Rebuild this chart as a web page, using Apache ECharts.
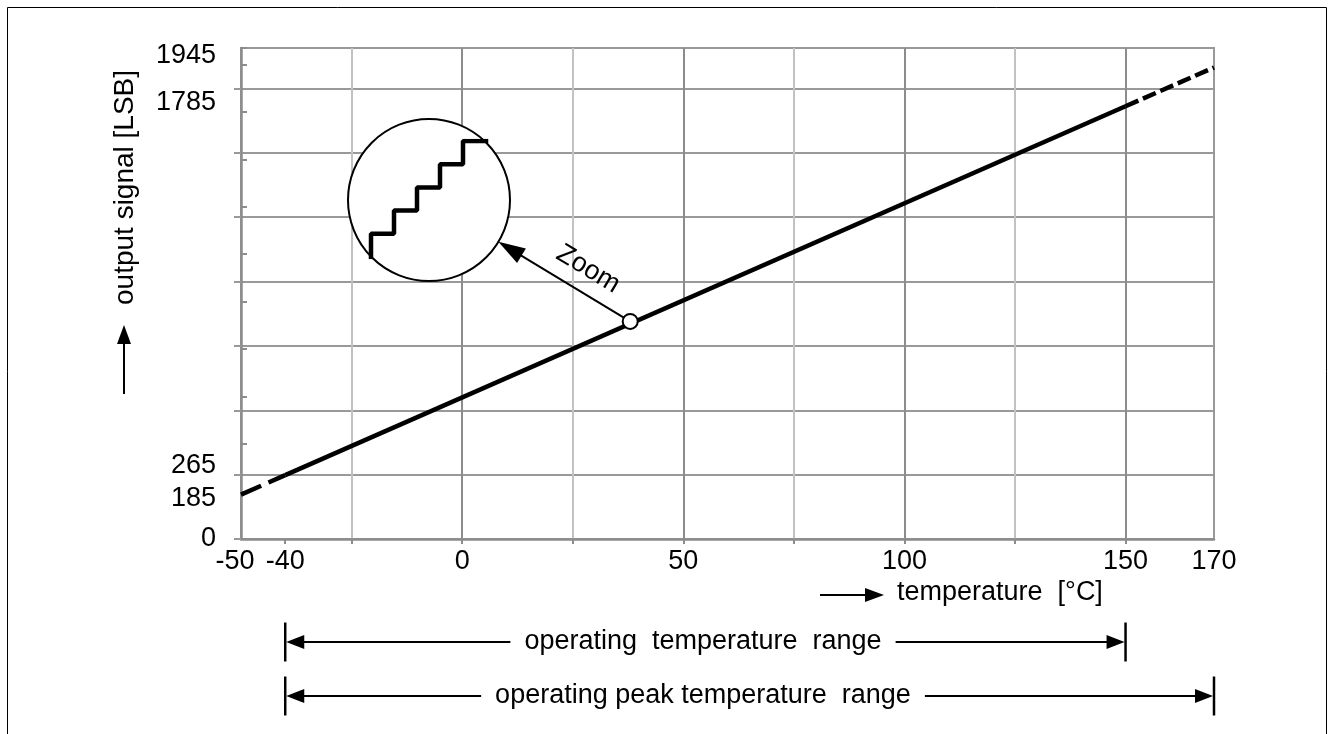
<!DOCTYPE html>
<html>
<head>
<meta charset="utf-8">
<script src="https://cdn.jsdelivr.net/npm/echarts@6/dist/echarts.min.js"></script>
<style>
  html, body { margin: 0; padding: 0; background: #fff; }
  #main { width: 1333px; height: 734px; }
</style>
</head>
<body>
<div id="main"></div>
<script>
// characteristic line (temperature in deg C, signal in LSB)
var tempPts = [-50, -40, 150, 170];
var signalPts = [176, 253, 1714, 1868];

// the little open circle that the "Zoom" arrow starts from
var markTemp = [38];
var markSignal = [862];

// axis ticks and labels
var xLabelVals = [-50, -40, 0, 50, 100, 150, 170];
var xTickVals = [-40, -25, 0, 25, 50, 75, 100, 125, 150];
var yLabelVals = [0, 185, 265, 1785, 1945];
var yGridVals = [0, 255, 510, 765, 1020, 1275, 1530, 1785];

// staircase inside the magnifier (LSB steps)
var stepX = [0, 1, 2, 3, 4, 5];
var stepY = [0, 1, 2, 3, 4, 5];

// temperature ranges under the chart
var rangeFrom = [-40, -40];
var rangeTo = [150, 170];
var rangeText = ['operating  temperature  range', 'operating peak temperature  range'];

var FAMILY = '"Liberation Sans", Arial, sans-serif';
var FS = 27;
var FONT = FS + 'px ' + FAMILY;

// small label nudges (px), the original sets them off their ticks
var yLabelNudge = [0, 6, -7, 14, 8];
var xLabelNudge = [-6, 0, 0, 0, 0, 0, 0];

function pairs(a, b) {
	return a.map(function (v, i) { return [v, b[i]]; });
}

var yRich = {}, xRich = {};
yLabelNudge.forEach(function (n, i) {
	yRich['n' + i] = { fontSize: FS, fontFamily: FAMILY, color: '#000',
		padding: n >= 0 ? [2 * n, 0, 0, 0] : [0, 0, -2 * n, 0] };
});
xLabelNudge.forEach(function (n, i) {
	xRich['n' + i] = { fontSize: FS, fontFamily: FAMILY, color: '#000',
		padding: n <= 0 ? [0, -2 * n, 0, 0] : [0, 0, 0, 2 * n] };
});

var line = pairs(tempPts, signalPts);
var axisGray = '#8c8c8c';

var chart = echarts.init(document.getElementById('main'), null, { renderer: 'canvas' });

var option = {
	backgroundColor: '#fff',
	animation: false,
	grid: [
		{ left: 241, right: 119, top: 48, bottom: 195, show: true, borderColor: '#999', borderWidth: 2, backgroundColor: 'transparent' },
		{ left: 371, top: 141, width: 115, height: 116 }
	],
	xAxis: [
		{
			type: 'value', gridIndex: 0, min: -50, max: 170, interval: 25, position: 'bottom',
			axisLine: { onZero: false, lineStyle: { color: axisGray, width: 2.5 } },
			axisTick: { show: false },
			axisLabel: {
				customValues: xLabelVals, margin: 9, fontSize: FS, fontFamily: FAMILY, color: '#000',
				rich: xRich,
				formatter: function (v) {
					var i = xLabelVals.indexOf(v);
					return '{n' + i + '|' + v + '}';
				}
			},
			splitLine: {
				show: true, showMinLine: false, showMaxLine: false,
				lineStyle: { color: ['#c2c2c2', axisGray], width: 2 }
			}
		},
		{
			// ticks only (the -40 tick has no grid line)
			type: 'value', gridIndex: 0, min: -50, max: 170, position: 'bottom',
			axisLine: { show: false, onZero: false },
			axisTick: { show: true, customValues: xTickVals, length: 5, lineStyle: { color: axisGray, width: 2 } },
			axisLabel: { show: false },
			splitLine: { show: false }
		},
		{ type: 'value', gridIndex: 1, min: 0, max: 5, show: false }
	],
	yAxis: [
		{
			type: 'value', gridIndex: 0, min: 0, max: 1945, position: 'left',
			axisLine: { show: true, onZero: false, lineStyle: { color: axisGray, width: 2.5 } },
			axisTick: { show: true, customValues: yGridVals, length: 7, lineStyle: { color: '#999', width: 2 } },
			axisLabel: {
				customValues: yLabelVals, margin: 25, fontSize: FS, fontFamily: FAMILY, color: '#000',
				rich: yRich,
				formatter: function (v) {
					var i = yLabelVals.indexOf(v);
					return '{n' + i + '|' + v + '}';
				}
			},
			splitLine: { show: true, showMinLine: false, lineStyle: { color: '#999', width: 2 } }
		},
		{
			// short inner ticks
			type: 'value', gridIndex: 0, min: 0, max: 1945, interval: 188, position: 'left',
			axisLine: { show: false, onZero: false },
			axisTick: { show: true, inside: true, length: 6, lineStyle: { color: axisGray, width: 2 } },
			axisLabel: { show: false },
			splitLine: { show: false }
		},
		{ type: 'value', gridIndex: 1, min: 0, max: 5, show: false }
	],
	series: [
		{
			type: 'line', xAxisIndex: 0, yAxisIndex: 0, data: line.slice(0, 2), symbol: 'none', z: 3,
			lineStyle: { color: '#000', width: 4.5, type: [22, 8] }
		},
		{
			type: 'line', xAxisIndex: 0, yAxisIndex: 0, data: line.slice(1, 3), symbol: 'none', z: 3,
			lineStyle: { color: '#000', width: 4.5 }
		},
		{
			type: 'line', xAxisIndex: 0, yAxisIndex: 0, data: line.slice(2, 4), symbol: 'none', z: 3,
			lineStyle: { color: '#000', width: 4.5, type: [14, 5] }
		},
		{
			type: 'scatter', xAxisIndex: 0, yAxisIndex: 0, data: pairs(markTemp, markSignal), z: 8,
			symbol: 'circle', symbolSize: 15,
			itemStyle: { color: '#fff', borderColor: '#000', borderWidth: 2, opacity: 1 }
		},
		{
			type: 'line', xAxisIndex: 2, yAxisIndex: 2, data: pairs(stepX, stepY), step: 'start',
			symbol: 'none', z: 6, lineStyle: { color: '#000', width: 4.5, cap: 'square' }
		}
	]
};

chart.setOption(option);

// ---- annotations ----
var ctx = document.createElement('canvas').getContext('2d');
ctx.font = FONT;

function head(tipX, tipY, ux, uy, len, half) {
	// (ux, uy) points from the tip back along the shaft
	return {
		type: 'polygon', z: 7,
		shape: { points: [
			[tipX, tipY],
			[tipX + ux * len - uy * half, tipY + uy * len + ux * half],
			[tipX + ux * len + uy * half, tipY + uy * len - ux * half]
		] },
		style: { fill: '#000' }
	};
}
function seg(x1, y1, x2, y2, w) {
	return { type: 'line', z: 7, shape: { x1: x1, y1: y1, x2: x2, y2: y2 }, style: { stroke: '#000', lineWidth: w || 2 } };
}
function txt(x, y, s, align, rot, font) {
	return {
		type: 'text', z: 7, x: x, y: y, rotation: rot || 0,
		style: { text: s, font: font || FONT, fill: '#000', align: align || 'center', verticalAlign: 'middle',
			textAlign: align || 'center', textVerticalAlign: 'middle' }
	};
}

var g = [];

// outer frame
g.push({ type: 'rect', z: 7, shape: { x: 7.5, y: 7.5, width: 1319, height: 760 }, style: { fill: 'none', stroke: '#000', lineWidth: 1 } });

// magnifier
var cx = 429, cy = 200, r = 81;
g.push({ type: 'circle', z: 5, shape: { cx: cx, cy: cy, r: r }, style: { fill: '#fff', stroke: '#000', lineWidth: 2 } });

var mp = chart.convertToPixel({ xAxisIndex: 0, yAxisIndex: 0 }, [markTemp[0], markSignal[0]]);
var dx = mp[0] - cx, dy = mp[1] - cy, d = Math.sqrt(dx * dx + dy * dy);
var ux = dx / d, uy = dy / d;
var tipX = cx + ux * r, tipY = cy + uy * r;
g.push(seg(tipX + ux * 20, tipY + uy * 20, mp[0] - ux * 7, mp[1] - uy * 7, 2));
g.push(head(tipX, tipY, ux, uy, 27, 8.5));
g.push(txt(tipX + ux * 91 + uy * 23, tipY + uy * 91 - ux * 23, 'Zoom', 'center', -Math.atan2(dy, dx)));

// axis titles with arrows
g.push(seg(820, 595, 866, 595, 2));
g.push(head(884, 595, -1, 0, 19, 7));
g.push(txt(897, 593, 'temperature  [°C]', 'left'));

g.push(seg(124, 394, 124, 343, 2));
g.push(head(124, 325, 0, 1, 19, 7));
g.push(txt(125, 305, 'output signal [LSB]', 'left', Math.PI / 2, '28px ' + FAMILY));

// temperature range dimension lines
var rowY = [642, 696];
var textMid = 703;
rangeFrom.forEach(function (f, i) {
	var x1 = chart.convertToPixel({ xAxisIndex: 0 }, f);
	var x2 = chart.convertToPixel({ xAxisIndex: 0 }, rangeTo[i]);
	var y = rowY[i];
	var half = ctx.measureText(rangeText[i]).width / 2;
	g.push(seg(x1, y - 19.5, x1, y + 19.5, 2.5));
	g.push(seg(x2, y - 19.5, x2, y + 19.5, 2.5));
	g.push(head(x1 + 1, y, 1, 0, 18, 7));
	g.push(head(x2 - 1, y, -1, 0, 18, 7));
	g.push(seg(x1 + 18, y, textMid - half - 14, y, 2));
	g.push(seg(textMid + half + 14, y, x2 - 18, y, 2));
	g.push(txt(textMid, y, rangeText[i], 'center'));
});

chart.setOption({ graphic: { elements: g } });
</script>
</body>
</html>
